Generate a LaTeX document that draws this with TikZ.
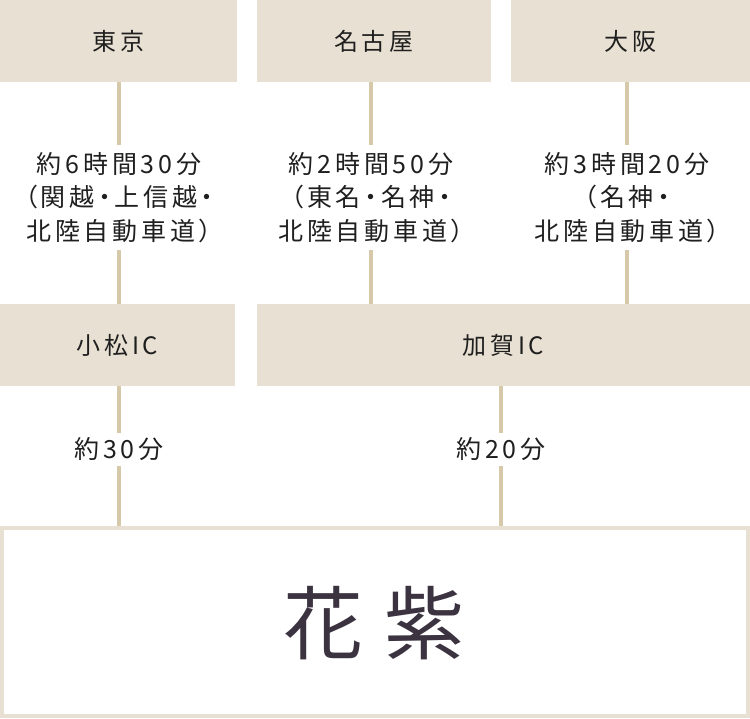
\documentclass[tikz,border=0pt]{standalone}
\usepackage{fontspec}
\setmainfont{Noto Sans CJK JP}[RawFeature=+palt, LetterSpace=15]
\newfontfamily\titlefont{Noto Sans CJK JP}
\definecolor{boxfill}{HTML}{E8E0D2}
\definecolor{linecol}{HTML}{D6C9A9}
\definecolor{txt}{HTML}{1F1F1F}
\definecolor{titlecol}{HTML}{3C3340}
\tikzset{
  place/.style={rectangle, fill=boxfill, inner sep=0pt, minimum height=82pt,
    text=txt, font=\fontsize{24}{28}\selectfont},
  timelabel/.style={rectangle, inner sep=0pt, align=center, text=txt,
    font=\fontsize{25}{33.5}\selectfont},
  conn/.style={draw=linecol, line width=3.8pt},
  goal/.style={rectangle, draw=boxfill, line width=4pt, fill=white, inner sep=0pt,
    minimum width=746pt, minimum height=188.5pt}
}
\begin{document}
\begin{tikzpicture}[x=1pt, y=-1pt]
\useasboundingbox (0,0) rectangle (750,718);
% places
\node[place, minimum width=237pt] (tokyo) at (118.5,41) {東京};
\node[place, minimum width=234pt] (nagoya) at (374,41) {名古屋};
\node[place, minimum width=239pt] (osaka) at (630.5,41) {大阪};
\node[place, minimum width=235pt] (komatsu) at (117.5,345) {小松IC};
\node[place, minimum width=493pt] (kaga) at (503.5,345) {加賀IC};
\node[goal] (hana) at (375,621.75) {};
\node[text=titlecol, font=\titlefont\fontsize{80}{80}\selectfont, inner sep=0pt] (title) at (374,623) {花\hspace{21pt}紫};
% time labels
\node[timelabel, minimum height=105pt] (t1) at (119,197.5) {約6時間30分\\（関越・上信越・\\北陸自動車道）};
\node[timelabel, minimum height=105pt] (t2) at (371,197.5) {約2時間50分\\（東名・名神・\\北陸自動車道）};
\node[timelabel, minimum height=105pt] (t3) at (627,197.5) {約3時間20分\\（名神・\\北陸自動車道）};
\node[timelabel, minimum height=33pt] (k1) at (119,449.5) {約30分};
\node[timelabel, minimum height=33pt] (k2) at (501,449.5) {約20分};
% connectors
\draw[conn] (t1.north |- tokyo.south) -- (t1.north);
\draw[conn] (t1.south) -- (t1.south |- komatsu.north);
\draw[conn] (t2.north |- nagoya.south) -- (t2.north);
\draw[conn] (t2.south) -- (t2.south |- kaga.north);
\draw[conn] (t3.north |- osaka.south) -- (t3.north);
\draw[conn] (t3.south) -- (t3.south |- kaga.north);
\draw[conn] (k1.north |- komatsu.south) -- (k1.north);
\draw[conn] (k1.south) -- (k1.south |- hana.north);
\draw[conn] (k2.north |- kaga.south) -- (k2.north);
\draw[conn] (k2.south) -- (k2.south |- hana.north);
\end{tikzpicture}
\end{document}
